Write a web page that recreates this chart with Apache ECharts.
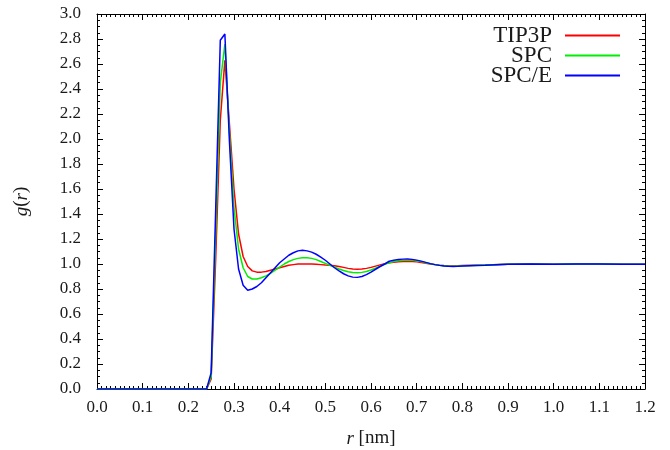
<!DOCTYPE html>
<html>
<head>
<meta charset="utf-8">
<script src="https://cdn.jsdelivr.net/npm/echarts@6/dist/echarts.min.js"></script>
<style>
html,body{margin:0;padding:0;background:#fff;}
#chart{width:670px;height:450px;}
</style>
</head>
<body>
<div id="chart"></div>
<script>
// r in nm
var r = [0.00, 0.10, 0.20,
  0.24, 0.25, 0.26, 0.27, 0.28, 0.29, 0.30, 0.31, 0.32, 0.33,
  0.34, 0.35, 0.36, 0.37, 0.38, 0.39, 0.40, 0.41, 0.42, 0.43,
  0.44, 0.45, 0.46, 0.47, 0.48, 0.49, 0.50, 0.51, 0.52, 0.53,
  0.54, 0.55, 0.56, 0.57, 0.58, 0.59, 0.60, 0.61, 0.62, 0.63,
  0.64, 0.65, 0.66, 0.67, 0.68, 0.69, 0.70, 0.71, 0.72, 0.73,
  0.74, 0.75, 0.76, 0.77, 0.78, 0.79, 0.80,
  0.85, 0.90, 0.95, 1.00, 1.05, 1.10, 1.15, 1.20];

var gTIP3P = [0, 0, 0,
  0.00, 0.08, 1.05, 2.15, 2.63, 2.12, 1.60, 1.24, 1.06, 0.98,
  0.945, 0.935, 0.935, 0.94, 0.95, 0.96, 0.97, 0.98, 0.99, 0.995,
  1.0, 1.0, 1.0, 1.0, 0.998, 0.995, 0.992, 0.99, 0.986, 0.98,
  0.973, 0.965, 0.96, 0.958, 0.96, 0.965, 0.973, 0.983, 0.993, 1.002,
  1.009, 1.014, 1.018, 1.02, 1.021, 1.02, 1.017, 1.012, 1.006, 1.0,
  0.995, 0.991, 0.988, 0.986, 0.985, 0.986, 0.988,
  0.992, 0.998, 1.0, 0.998, 1.0, 1.0, 0.998, 0.998];

var gSPC = [0, 0, 0,
  0.00, 0.10, 1.25, 2.45, 2.76, 2.05, 1.45, 1.12, 0.97, 0.90,
  0.88, 0.88, 0.89, 0.905, 0.925, 0.95, 0.975, 1.0, 1.02, 1.035,
  1.045, 1.05, 1.05, 1.045, 1.035, 1.02, 1.005, 0.99, 0.975, 0.96,
  0.948, 0.938, 0.932, 0.93, 0.933, 0.94, 0.952, 0.967, 0.982, 0.997,
  1.01, 1.019, 1.026, 1.03, 1.031, 1.03, 1.026, 1.019, 1.01, 1.002,
  0.995, 0.99, 0.986, 0.983, 0.982, 0.983, 0.986,
  0.992, 0.998, 1.0, 0.998, 1.0, 1.0, 0.998, 0.998];

var gSPCE = [0, 0, 0,
  0.00, 0.13, 1.45, 2.79, 2.84, 1.98, 1.28, 0.96, 0.83, 0.79,
  0.80, 0.82, 0.85, 0.89, 0.93, 0.97, 1.01, 1.04, 1.07, 1.09,
  1.105, 1.11, 1.105, 1.095, 1.078, 1.055, 1.03, 1.0, 0.97, 0.945,
  0.922, 0.905, 0.895, 0.893, 0.90, 0.915, 0.935, 0.958, 0.98, 1.0,
  1.022, 1.03, 1.036, 1.039, 1.04, 1.037, 1.031, 1.023, 1.013, 1.003,
  0.995, 0.989, 0.984, 0.981, 0.98, 0.981, 0.984,
  0.99, 0.998, 1.0, 0.998, 1.0, 1.0, 0.998, 0.998];

var seriesNames = ['TIP3P', 'SPC', 'SPC/E'];
var seriesColors = ['#ff0000', '#00ee00', '#0000ff'];
var seriesValues = [gTIP3P, gSPC, gSPCE];

var FONT = '"Liberation Serif", "Times New Roman", serif';
var TXT = '#1a1a1a';

function pairs(ys) {
  return r.map(function (x, i) { return [x, ys[i]]; });
}

function xAxisCfg(pos, showLabel) {
  return {
    type: 'value', position: pos, min: 0, max: 1.2, interval: 0.1,
    axisLine: { show: true, onZero: false, lineStyle: { color: '#000', width: 1 } },
    axisTick: { show: true, inside: true, length: 6, lineStyle: { color: '#000' } },
    minorTick: { show: true, splitNumber: 10, length: 3, lineStyle: { color: '#000' } },
    splitLine: { show: false },
    axisLabel: {
      show: showLabel, margin: 10, fontFamily: FONT, fontSize: 17, color: TXT,
      formatter: function (v) { return v.toFixed(1); }
    }
  };
}
function yAxisCfg(pos, showLabel) {
  return {
    type: 'value', position: pos, min: 0, max: 3, interval: 0.2,
    axisLine: { show: true, onZero: false, lineStyle: { color: '#000', width: 1 } },
    axisTick: { show: true, inside: true, length: 6, lineStyle: { color: '#000' } },
    minorTick: { show: true, splitNumber: 4, length: 3, lineStyle: { color: '#000' } },
    splitLine: { show: false },
    axisLabel: {
      show: showLabel, margin: 16, fontFamily: FONT, fontSize: 17, color: TXT,
      formatter: function (v) { return v.toFixed(1); }
    }
  };
}

var xBottom = xAxisCfg('bottom', true);
xBottom.name = '{i|r} [nm]';
xBottom.nameLocation = 'middle';
xBottom.nameGap = 40;
xBottom.nameTextStyle = { fontFamily: FONT, fontSize: 19, color: TXT,
  rich: { i: { fontFamily: FONT, fontSize: 19, fontStyle: 'italic', color: TXT } } };

var yLeft = yAxisCfg('left', true);
yLeft.name = '{i|g}({i|r})';
yLeft.nameLocation = 'middle';
yLeft.nameGap = 66;
yLeft.nameRotate = 90;
yLeft.nameTextStyle = { fontFamily: FONT, fontSize: 19, color: TXT,
  rich: { i: { fontFamily: FONT, fontSize: 19, fontStyle: 'italic', color: TXT } } };

var option = {
  animation: false,
  backgroundColor: '#fff',
  grid: { left: 97, right: 25, top: 14, bottom: 61, containLabel: false, outerBoundsMode: 'none' },
  xAxis: [xBottom, xAxisCfg('top', false)],
  yAxis: [yLeft, yAxisCfg('right', false)],
  legend: {
    orient: 'vertical', right: 50, top: 24, align: 'right', padding: 0,
    icon: 'rect', itemWidth: 55, itemHeight: 2, itemGap: -3,
    textStyle: { fontFamily: FONT, fontSize: 23, color: TXT, padding: [0, 8, 0, 0], lineHeight: 20, height: 20 },
    data: seriesNames.map(function (n, k) {
      return { name: n, icon: 'rect', itemStyle: { color: seriesColors[k] } };
    })
  },
  series: seriesNames.map(function (n, k) {
    return {
      name: n, type: 'line', xAxisIndex: 0, yAxisIndex: 0,
      data: pairs(seriesValues[k]),
      symbol: 'none', showSymbol: false, smooth: false,
      lineStyle: { color: seriesColors[k], width: 1.5 },
      itemStyle: { color: seriesColors[k] },
      z: 2 + k
    };
  })
};

var chart = echarts.init(document.getElementById('chart'), null, { renderer: 'canvas' });
chart.setOption(option);
</script>
</body>
</html>
